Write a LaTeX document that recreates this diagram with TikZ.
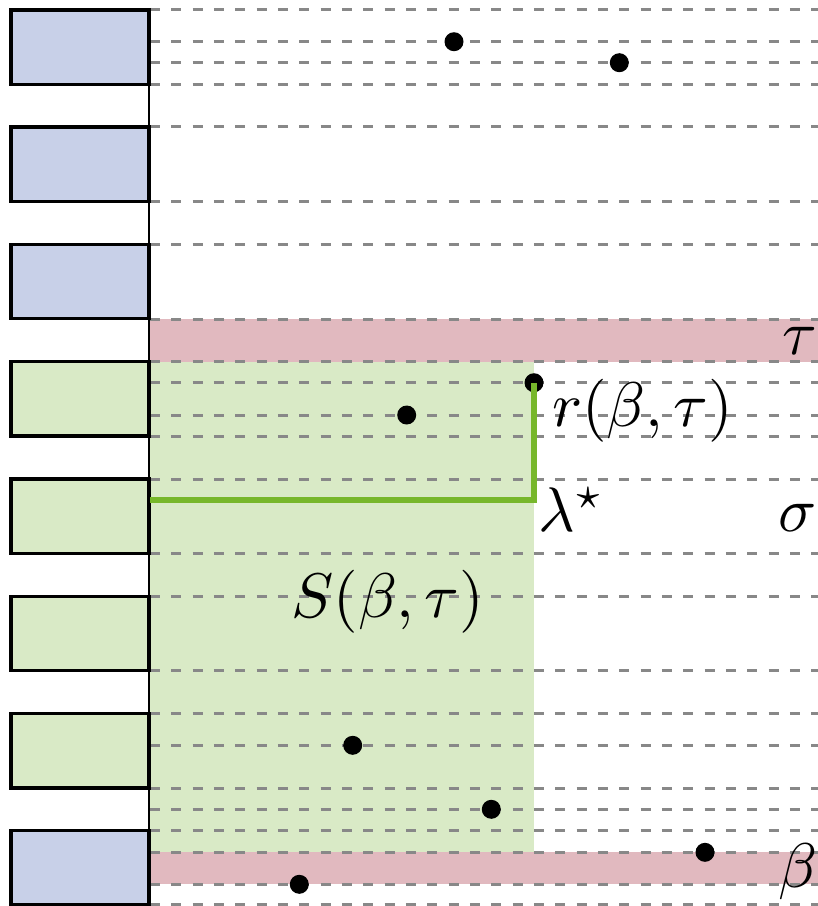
\documentclass[tikz,border=0pt]{standalone}
\definecolor{slotblue}{HTML}{C8D0E8}
\definecolor{slotgreen}{HTML}{D9EAC6}
\definecolor{bandred}{HTML}{E1B9BF}
\definecolor{pathgreen}{HTML}{77B72B}
\definecolor{gridgray}{HTML}{888888}
\begin{document}
\begin{tikzpicture}[x=1pt,y=-1pt,
  gridline/.style={draw=gridgray,line width=3pt,dash pattern=on 10pt off 11.33pt},
  slot/.style={draw=black,line width=3.5pt,minimum width=138pt,minimum height=74.3pt,inner sep=0pt,outer sep=0pt,anchor=north west},
  blueslot/.style={slot,fill=slotblue},
  greenslot/.style={slot,fill=slotgreen},
  dot/.style={circle,fill=black,minimum size=19pt,inner sep=0pt},
  lbl/.style={anchor=base west,inner sep=0pt,scale=6.3},
  pathline/.style={draw=pathgreen,line width=5.7pt}]
\useasboundingbox (0,0) rectangle (818,906);
% bands and region
\fill[bandred] (150,319) rectangle (818,361.7);
\fill[bandred] (150,852.3) rectangle (818,884.3);
\fill[slotgreen] (150,361.7) rectangle (534,852.3);
% dashed lines
\foreach \yy in {9.5,41.7,62.7,84,126.7,201,244,319,361.7,382.7,415,436,479,553,596,670.7,713.7,745.3,788.3,809.3,830.7,852.3,884.3,904.3}
  \draw[gridline] (150,\yy) -- (818,\yy);
% vertical axis
\coordinate (axtop) at (149,9.5);
\coordinate (axbot) at (149,906);
\draw[line width=2.5pt] (axtop) -- (axbot);
% slots
\node[blueslot] (s1) at (11,10) {};
\node[blueslot] (s2) at (11,127) {};
\node[blueslot] (s3) at (11,244.3) {};
\node[greenslot] (s4) at (11,361.7) {};
\node[greenslot] (s5) at (11,479) {};
\node[greenslot] (s6) at (11,596.3) {};
\node[greenslot] (s7) at (11,713.7) {};
\node[blueslot] (s8) at (11,830.7) {};
% green path
\coordinate (gl) at (150,500);
\node[dot] (dr) at (534,382.7) {};
\draw[pathline] (gl) -| (dr.center);
% dots
\node[dot] (d1) at (454,41.7) {};
\node[dot] (d2) at (619.3,62.7) {};
\node[dot] (d3) at (406.7,415) {};
\node[dot] (d4) at (352.7,745.3) {};
\node[dot] (d5) at (491.3,809.3) {};
\node[dot] (d6) at (705,852.3) {};
\node[dot] (d7) at (299.3,884.3) {};
% labels
\node[lbl] (ltau) at (781,354) {$\tau$};
\node[lbl] (lr) at (551,426) {$r(\beta,\tau)$};
\node[lbl] (llam) at (537,531) {$\lambda^{\star}$};
\node[lbl] (lsig) at (777,531) {$\sigma$};
\node[lbl] (lS) at (290,617) {$S(\beta,\tau)$};
\node[lbl] (lbeta) at (777,887) {$\beta$};
\end{tikzpicture}
\end{document}
